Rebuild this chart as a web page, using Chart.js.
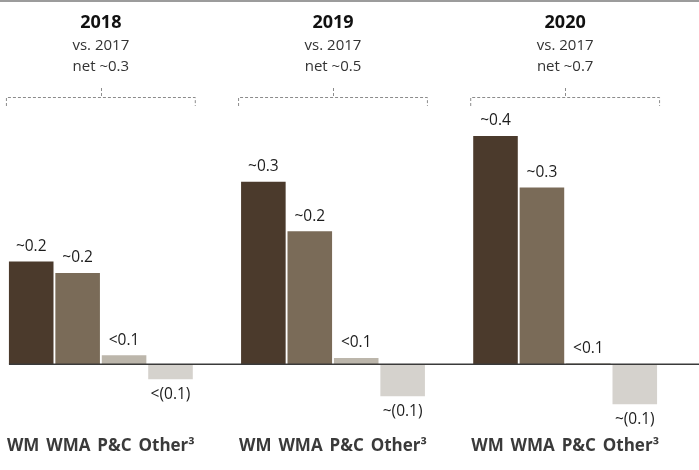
<!DOCTYPE html>
<html lang="en">
<head>
  <meta charset="UTF-8">
  <title>Net change vs. 2017</title>
  <script src="https://cdn.jsdelivr.net/npm/chart.js"></script>
  <style>
    html, body { margin: 0; padding: 0; background: #fff; }
    #wrap { width: 699px; height: 470px; }
  </style>
</head>
<body>
  <div id="wrap"><canvas id="netChart" width="699" height="470"></canvas></div>

  <script>
    // Data
    const years = ['2018', '2019', '2020'];
    const baseYear = 'vs. 2017';
    const netChange = ['~0.3', '~0.5', '~0.7'];
    const segments = ['WM', 'WMA', 'P&C', 'Other\u00B3'];

    const wm = [0.18, 0.32, 0.40];
    const wma = [0.16, 0.233, 0.31];
    const pc = [0.016, 0.011, 0.002];
    const other = [-0.026, -0.056, -0.07];

    const wmText = ['~0.2', '~0.3', '~0.4'];
    const wmaText = ['~0.2', '~0.2', '~0.3'];
    const pcText = ['<0.1', '<0.1', '<0.1'];
    const otherText = ['<(0.1)', '~(0.1)', '~(0.1)'];

    const segColors = ['#4b3a2c', '#7a6b58', '#bcb6ab', '#d5d2cd'];

    // one slot per bar, an empty slot between the year groups
    const series = [wm, wma, pc, other];
    const seriesText = [wmText, wmaText, pcText, otherText];
    const labels = [], values = [], texts = [], colors = [], groupStart = [];
    years.forEach(function(y, g) {
      groupStart.push(labels.length);
      segments.forEach(function(s, i) {
        labels.push(s);
        values.push(series[i][g]);
        texts.push(seriesText[i][g]);
        colors.push(segColors[i]);
      });
      if (g < years.length - 1) {
        labels.push('');
        values.push(null);
        texts.push('');
        colors.push('#fff');
      }
    });

    const FONT = "'Open Sans', 'DejaVu Sans', sans-serif";

    const decorations = {
      id: 'decorations',
      afterDatasetsDraw(chart) {
        const ctx = chart.ctx;
        const yS = chart.scales.y;
        const meta = chart.getDatasetMeta(0);
        const zeroY = yS.getPixelForValue(0);

        ctx.save();
        // top rule
        ctx.strokeStyle = '#9c9c9c';
        ctx.lineWidth = 2;
        ctx.beginPath();
        ctx.moveTo(0, 1);
        ctx.lineTo(chart.width, 1);
        ctx.stroke();

        // zero line
        const firstBar = meta.data[0];
        ctx.strokeStyle = '#3a3a3a';
        ctx.lineWidth = 1.5;
        ctx.beginPath();
        ctx.moveTo(firstBar.x - firstBar.width / 2, zeroY);
        ctx.lineTo(chart.width, zeroY);
        ctx.stroke();

        // value labels
        ctx.fillStyle = '#1c1c1c';
        ctx.font = '15.5px ' + FONT;
        ctx.textAlign = 'center';
        ctx.textBaseline = 'middle';
        meta.data.forEach(function(bar, i) {
          if (values[i] === null) return;
          const yPos = values[i] >= 0 ? bar.y - 15 : bar.y + 15;
          ctx.fillText(texts[i], bar.x, yPos);
        });

        // year headers, brackets and segment names under each group
        years.forEach(function(yr, g) {
          const a = meta.data[groupStart[g]];
          const b = meta.data[groupStart[g] + segments.length - 1];
          const left = a.x - a.width / 2 - 3;
          const right = b.x + b.width / 2 + 3;
          const cx = (left + right) / 2;

          ctx.textAlign = 'center';
          ctx.fillStyle = '#111';
          ctx.font = 'bold 18px ' + FONT;
          ctx.fillText(yr, cx, 23);
          ctx.fillStyle = '#333';
          ctx.font = '15px ' + FONT;
          ctx.fillText(baseYear, cx, 46);
          ctx.fillText('net ' + netChange[g], cx, 67);

          ctx.strokeStyle = '#8c8c8c';
          ctx.lineWidth = 1;
          ctx.setLineDash([3, 2]);
          ctx.beginPath();
          ctx.moveTo(left + 0.5, 106);
          ctx.lineTo(left + 0.5, 97.5);
          ctx.lineTo(right - 0.5, 97.5);
          ctx.lineTo(right - 0.5, 106);
          ctx.moveTo(Math.round(cx) + 0.5, 88);
          ctx.lineTo(Math.round(cx) + 0.5, 96);
          ctx.stroke();
          ctx.setLineDash([]);

          // segment names set as one line spanning the group
          ctx.fillStyle = '#3a3a3a';
          ctx.font = 'bold 17px ' + FONT;
          ctx.textAlign = 'left';
          const widths = segments.map(function(s) { return ctx.measureText(s).width; });
          const total = widths.reduce(function(p, w) { return p + w; }, 0);
          const span = right - left - 2;
          const gap = (span - total) / (segments.length - 1);
          let tx = left + 1;
          segments.forEach(function(s, i) {
            ctx.fillText(s, tx, 446);
            tx += widths[i] + gap;
          });
        });
        ctx.restore();
      }
    };

    new Chart(document.getElementById('netChart'), {
      type: 'bar',
      data: {
        labels: labels,
        datasets: [{
          data: values,
          backgroundColor: colors,
          borderWidth: 0,
          barPercentage: 0.96,
          categoryPercentage: 1.0
        }]
      },
      options: {
        responsive: false,
        animation: false,
        devicePixelRatio: 1,
        layout: { padding: { left: 8, right: 41, top: 110, bottom: 46 } },
        scales: {
          x: {
            display: false
          },
          y: {
            display: false,
            min: -0.1046,
            max: 0.4456
          }
        },
        plugins: {
          legend: { display: false },
          tooltip: { enabled: false }
        }
      },
      plugins: [decorations]
    });
  </script>
</body>
</html>
